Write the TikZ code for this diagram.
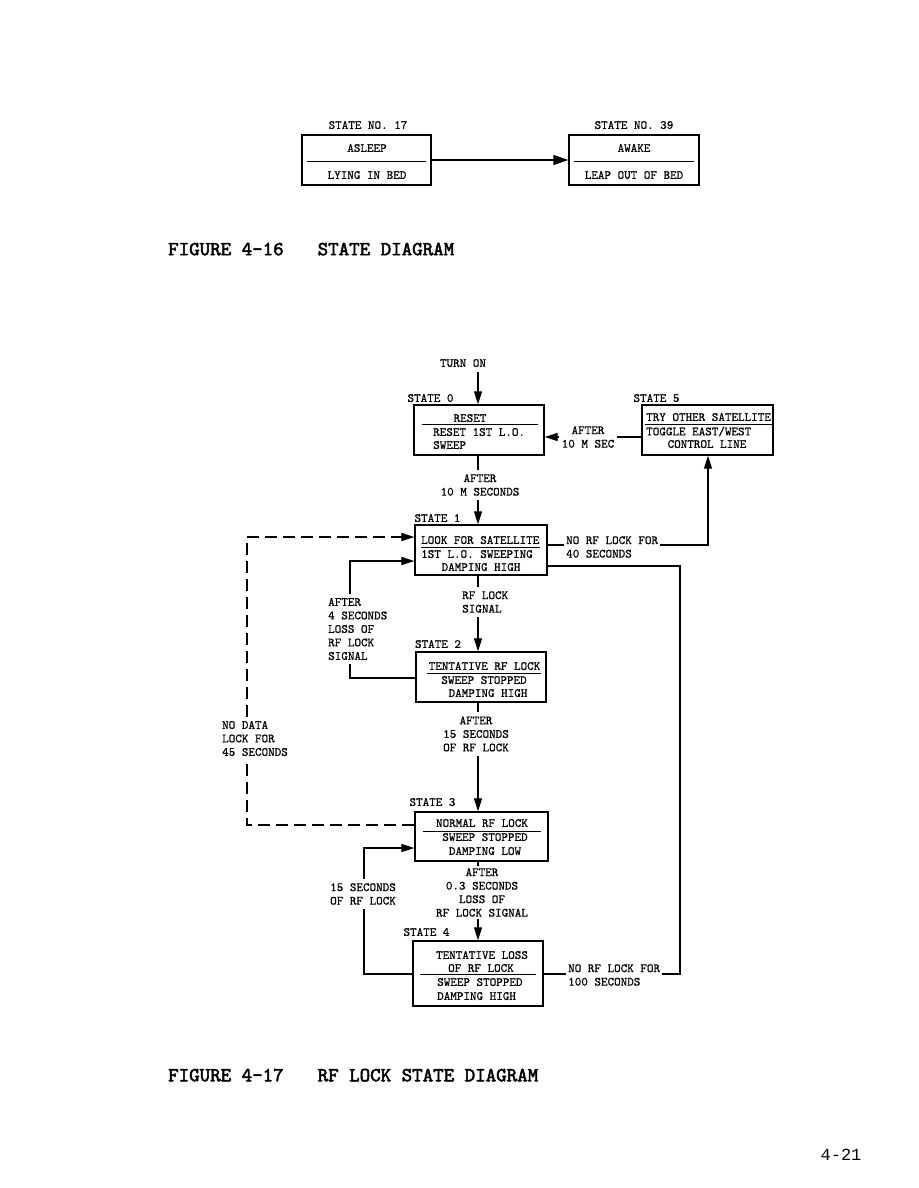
\documentclass[tikz,border=0pt]{standalone}
\usepackage{fontspec}
\usetikzlibrary{arrows.meta}
\newfontfamily\pgnumfont{Liberation Mono}
\newfontfamily\tmono{lmmono10-regular.otf}[FakeBold=0.7]
\newfontfamily\capmono{lmmono10-regular.otf}[FakeBold=2.5]
\tikzset{
  basefont/.style={font=\fontsize{12.5}{13.5}\selectfont\tmono, inner sep=0pt},
  txt/.style={basefont, text depth=0pt},
  ml/.style={basefont, align=center, inner ysep=4pt, inner xsep=2pt},
  mll/.style={basefont, align=left, inner ysep=4pt, inner xsep=2pt},
  figcap/.style={font=\fontsize{20}{20}\selectfont\capmono, inner sep=0pt, text depth=0pt},
  sbox/.style={draw, line width=1.3pt, inner sep=0pt},
  conn/.style={line width=1.1pt},
  arr/.style={conn, -{Triangle[length=13pt,width=8pt]}},
  dsh/.style={conn, dash pattern=on 12pt off 6pt},
  div/.style={line width=1pt},
}
\begin{document}
\begin{tikzpicture}[x=1pt,y=-1pt]
\fill[white] (0,0) rectangle (918,1188);
\useasboundingbox (0,0) rectangle (918,1188);

% ---------- Figure 4-16 ----------
\node[txt] (h17) at (368,125) {STATE NO. 17};
\node[sbox, minimum width=129pt, minimum height=50pt] (b17) at (366.5,160) {};
\node[txt] (b17a) at (367,148) {ASLEEP};
\draw[div] (307,161) -- (426,161);
\node[txt] (b17b) at (367,175) {LYING IN BED};
\node[txt] (h39) at (634,125) {STATE NO. 39};
\node[sbox, minimum width=130pt, minimum height=50pt] (b39) at (634,160) {};
\node[txt] (b39a) at (634,148) {AWAKE};
\draw[div] (574,161) -- (694,161);
\node[txt] (b39b) at (634,175) {LEAP OUT OF BED};
\draw[conn, -{Triangle[length=15pt,width=10pt]}] (b17.east) -- (b39.west);

\node[figcap, anchor=west] (cap1) at (168,249) {FIGURE 4-16\hspace{34pt}STATE DIAGRAM};

% ---------- Figure 4-17 ----------
\coordinate (sp) at (478,0);
\node[txt, inner ysep=5pt] (ton) at (463,363) {TURN ON};

% State 0
\node[txt] (st0) at (430.5,398) {STATE 0};
\node[sbox, minimum width=130pt, minimum height=50pt] (s0) at (479,430) {};
\node[txt] (s0a) at (470,418) {RESET};
\draw[div] (422,424) -- (538,424);
\node[txt, anchor=west] (s0b) at (433,432) {RESET 1ST L.O.};
\node[txt, anchor=west] (s0c) at (433,445) {SWEEP};

% State 5
\node[txt] (st5) at (656.5,398) {STATE 5};
\node[sbox, minimum width=131pt, minimum height=50pt] (s5) at (707.5,430) {};
\node[txt, anchor=west] (s5a) at (646,417) {TRY OTHER SATELLITE};
\draw[div] (645,424) -- (772,424);
\node[txt, anchor=west] (s5b) at (646,431) {TOGGLE EAST/WEST};
\node[txt] (s5c) at (707,444) {CONTROL LINE};

% State 1
\node[txt] (st1) at (437.5,518) {STATE 1};
\node[sbox, minimum width=132pt, minimum height=50pt] (s1) at (481,550) {};
\node[txt, anchor=west] (s1a) at (421,540) {LOOK FOR SATELLITE};
\draw[div] (421,547) -- (540,547);
\node[txt, anchor=west] (s1b) at (421,554) {1ST L.O. SWEEPING};
\node[txt] (s1c) at (481,567) {DAMPING HIGH};

% State 2
\node[txt] (st2) at (438,644) {STATE 2};
\node[sbox, minimum width=130pt, minimum height=50pt] (s2) at (481,677) {};
\node[txt] (s2a) at (484.5,666) {TENTATIVE RF LOCK};
\draw[div] (427,673) -- (541,673);
\node[txt] (s2b) at (484,680) {SWEEP STOPPED};
\node[txt] (s2c) at (488,693) {DAMPING HIGH};

% State 3
\node[txt] (st3) at (432.5,802) {STATE 3};
\node[sbox, minimum width=133pt, minimum height=49pt] (s3) at (481.5,836.5) {};
\node[txt] (s3a) at (482,823) {NORMAL RF LOCK};
\draw[div] (423,831) -- (541,831);
\node[txt] (s3b) at (485,837) {SWEEP STOPPED};
\node[txt] (s3c) at (485,851) {DAMPING LOW};

% State 4
\node[txt] (st4) at (426.5,932) {STATE 4};
\node[sbox, minimum width=130pt, minimum height=65pt] (s4) at (478,973.5) {};
\node[txt] (s4a) at (482,955) {TENTATIVE LOSS};
\node[txt] (s4b) at (481,968) {OF RF LOCK};
\draw[div] (420,974) -- (536,974);
\node[txt, anchor=west] (s4c) at (437,982) {SWEEP STOPPED};
\node[txt, anchor=west] (s4d) at (437,996) {DAMPING HIGH};

% Labels
\node[ml, inner xsep=3pt] (l05) at (588,437) {AFTER\\10 M SEC};
\node[ml] (l01) at (480,485) {AFTER\\10 M SECONDS};
\node[mll, anchor=west] (l15) at (564,547) {NO RF LOCK FOR\\40 SECONDS};
\node[mll, anchor=west] (l41) at (566,975) {NO RF LOCK FOR\\100 SECONDS};
\node[mll, anchor=west] (lnd) at (220,738.5) {NO DATA\\LOCK FOR\\45 SECONDS};
\node[mll, anchor=west] (la4) at (326,629) {AFTER\\4 SECONDS\\LOSS OF\\RF LOCK\\SIGNAL};
\node[mll, anchor=west] (lrf) at (460,602) {RF LOCK\\SIGNAL};
\node[ml] (l23) at (476,734) {AFTER\\15 SECONDS\\OF RF LOCK};
\node[ml, inner ysep=2pt] (l34) at (482,892.5) {AFTER\\0.3 SECONDS\\LOSS OF\\RF LOCK SIGNAL};
\node[mll, anchor=west] (l43) at (328,894) {15 SECONDS\\OF RF LOCK};

% Coordinates for routing
\coordinate (r15) at (708,545);
\coordinate (rt) at (680,566);
\coordinate (rb) at (680,974);
\coordinate (d1) at (247,537);
\coordinate (d2) at (247,825);
\coordinate (c4) at (350,561);
\coordinate (c4b) at (350,678);
\coordinate (c3) at (364,848);
\coordinate (c3b) at (364,974);

% Connectors
\draw[arr] (sp |- ton.south) -- (sp |- s0.north);
\draw[conn] (s5.west |- l05) -- (l05.east);
\draw[arr] (l05.west) -- (s0.east |- l05);
\draw[conn] (sp |- s0.south) -- (sp |- l01.north);
\draw[arr] (sp |- l01.south) -- (sp |- s1.north);
\draw[conn] (s1.east |- r15) -- (l15.west |- r15);
\draw[arr] (l15.east |- r15) -- (r15) -- (s5.south -| r15);
\draw[conn] (s1.east |- rt) -- (rt) -- (rb) -- (l41.east |- rb);
\draw[conn] (l41.west |- rb) -- (s4.east |- rb);
\draw[dsh, -{Triangle[length=13pt,width=8pt]}] (lnd.north -| d1) -- (d1) -- (s1.west |- d1);
\draw[dsh] (s3.west |- d2) -- (d2) -- (lnd.south -| d2);
\draw[arr] (la4.north -| c4) -- (c4) -- (s1.west |- c4);
\draw[conn] (s2.west |- c4b) -- (c4b) -- (la4.south -| c4b);
\draw[conn] (sp |- s1.south) -- (sp |- lrf.north);
\draw[arr] (sp |- lrf.south) -- (sp |- s2.north);
\draw[conn] (sp |- s2.south) -- (sp |- l23.north);
\draw[arr] (sp |- l23.south) -- (sp |- s3.north);
\draw[conn] (sp |- s3.south) -- (sp |- l34.north);
\draw[arr] (sp |- l34.south) -- (sp |- s4.north);
\draw[arr] (l43.north -| c3) -- (c3) -- (s3.west |- c3);
\draw[conn] (s4.west |- c3b) -- (c3b) -- (l43.south -| c3b);

\node[figcap, anchor=west] (cap2) at (168,1075) {FIGURE 4-17\hspace{34pt}RF LOCK STATE DIAGRAM};
\node[font=\fontsize{17}{17}\selectfont\pgnumfont, inner sep=0pt, text depth=0pt] (pg) at (841,1155) {4-21};
\end{tikzpicture}
\end{document}
